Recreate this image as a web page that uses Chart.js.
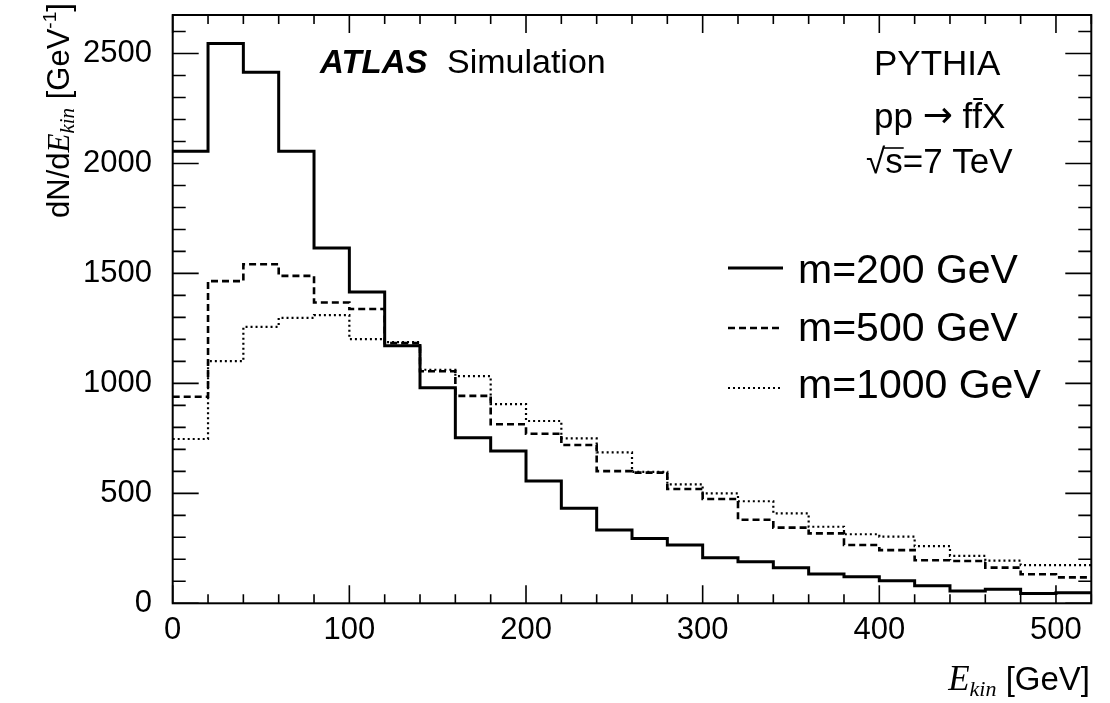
<!DOCTYPE html>
<html><head><meta charset="utf-8">
<script src="https://cdn.jsdelivr.net/npm/chart.js@4.4.0/dist/chart.umd.min.js"></script>
<style>html,body{margin:0;padding:0;background:#fff;} canvas{display:block;}</style>
</head><body>
<canvas id="c" width="1110" height="703"></canvas>
<script>
// ---- data ----
const binEdges = [0,20,40,60,80,100,120,140,160,180,200,220,240,260,280,300,320,340,360,380,400,420,440,460,480,500];
const xEnd = 520;
const m200  = [2055,2545,2415,2055,1615,1415,1171,980,753,692,556,432,333,295,265,207,189,162,133,121,103,80,56,64,45,48];
const m500  = [939,1465,1542,1489,1368,1338,1183,1055,943,814,771,720,601,594,520,474,380,344,318,265,242,196,192,162,132,118];
const m1000 = [747,1101,1257,1298,1310,1201,1188,1062,1033,906,829,750,686,598,541,500,464,409,348,314,303,260,216,194,174,174];
const seriesLabels = ['m=200 GeV','m=500 GeV','m=1000 GeV'];
const xMajorTicks = [0,100,200,300,400,500];
const yMajorTicks = [0,500,1000,1500,2000,2500];
const xMinorStep = 20, yMinorStep = 100;
const xMax = 520, yMax = 2675;

const FONT = '"Liberation Sans", Arial, Helvetica, sans-serif';
const SERIF = '"Liberation Serif", "Times New Roman", serif';

function hist(vals){
  return binEdges.map((x,i)=>({x:x, y:vals[i]})).concat([{x:xEnd, y:vals[vals.length-1]}]);
}
const styles = [
  {borderWidth:3, borderDash:[]},
  {borderWidth:2.6, borderDash:[7,4]},
  {borderWidth:2.2, borderDash:[2,3]}
];
const seriesData = [m200, m500, m1000];

const framePlugin = {
  id:'frame',
  afterDraw(chart){
    const ctx = chart.ctx, ca = chart.chartArea, xs = chart.scales.x, ys = chart.scales.y;
    ctx.save();
    ctx.strokeStyle = '#000'; ctx.fillStyle = '#000';
    // ticks
    ctx.lineWidth = 1.6;
    ctx.beginPath();
    for (let v = 0; v <= xMax + 1e-9; v += xMinorStep){
      const px = xs.getPixelForValue(v);
      const len = (v % 100 === 0) ? 18 : 9;
      ctx.moveTo(px, ca.bottom); ctx.lineTo(px, ca.bottom - len);
      ctx.moveTo(px, ca.top); ctx.lineTo(px, ca.top + len);
    }
    for (let v = 0; v <= yMax; v += yMinorStep){
      const py = ys.getPixelForValue(v);
      const len = (v % 500 === 0) ? 26 : 13;
      ctx.moveTo(ca.left, py); ctx.lineTo(ca.left + len, py);
      ctx.moveTo(ca.right, py); ctx.lineTo(ca.right - len, py);
    }
    ctx.stroke();
    // frame
    ctx.lineWidth = 2;
    ctx.strokeRect(ca.left, ca.top, ca.right - ca.left, ca.bottom - ca.top);

    // texts
    ctx.textBaseline = 'alphabetic'; ctx.textAlign = 'left';
    ctx.font = 'italic bold 33px ' + FONT;
    ctx.fillText('ATLAS', 320, 73);
    ctx.font = '34px ' + FONT;
    ctx.fillText('Simulation', 447, 73);
    ctx.font = '35px ' + FONT;
    ctx.fillText('PYTHIA', 874, 75);
    // pp -> f fbar X
    let px0 = 874;
    const put = (t, f, y) => { ctx.font = f; ctx.fillText(t, px0, y); px0 += ctx.measureText(t).width; };
    put('pp ', '35px ' + FONT, 128);
    put('\u2192', '36px "DejaVu Sans", ' + FONT, 127);
    put(' f', '35px ' + FONT, 128);
    const fbarX = px0;
    put('f', '35px ' + FONT, 128);
    const fW = px0 - fbarX;
    put('X', '35px ' + FONT, 128);
    ctx.lineWidth = 2;
    ctx.beginPath(); ctx.moveTo(fbarX + 1, 99); ctx.lineTo(fbarX + fW + 1, 99); ctx.stroke();
    ctx.font = '35px ' + FONT;
    ctx.fillText('\u221As=7 TeV', 866, 173);
    const wr = ctx.measureText('\u221A').width, ws = ctx.measureText('s').width;
    ctx.lineWidth = 1.6;
    ctx.beginPath(); ctx.moveTo(866 + wr - 2, 148); ctx.lineTo(866 + wr + ws + 1, 148); ctx.stroke();

    // legend
    const legY = [268, 328, 388], legBase = [283, 341, 398];
    for (let i = 0; i < 3; i++){
      ctx.save();
      ctx.lineWidth = styles[i].borderWidth;
      ctx.setLineDash(styles[i].borderDash);
      ctx.beginPath(); ctx.moveTo(728, legY[i]); ctx.lineTo(783, legY[i]); ctx.stroke();
      ctx.restore();
      ctx.font = '41px ' + FONT;
      ctx.fillText(seriesLabels[i], 798, legBase[i]);
    }

    // y-axis title (rotated)
    ctx.save();
    ctx.translate(69, 218); ctx.rotate(-Math.PI/2);
    let x = 0;
    const seg = (t, f, dy) => { ctx.font = f; ctx.fillText(t, x, dy); x += ctx.measureText(t).width; };
    seg('dN/d', '31px ' + FONT, 0);
    seg('E', 'italic 31px ' + SERIF, 0);
    seg('kin', 'italic 21px ' + SERIF, 5);
    seg(' [GeV', '31px ' + FONT, 0);
    seg('-1', '19px ' + FONT, -13);
    seg(']', '31px ' + FONT, 0);
    ctx.restore();

    // x-axis title (right aligned)
    const parts = [['E','italic 35px ' + SERIF, 0], ['kin','italic 22px ' + SERIF, 6], [' [GeV]','33px ' + FONT, 0]];
    let tot = 0;
    parts.forEach(p => { ctx.font = p[1]; tot += ctx.measureText(p[0]).width; });
    let xx = 1090 - tot;
    parts.forEach(p => { ctx.font = p[1]; ctx.fillText(p[0], xx, 690 + p[2]); xx += ctx.measureText(p[0]).width; });
    ctx.restore();
  }
};

new Chart(document.getElementById('c').getContext('2d'), {
  type:'line',
  data:{
    datasets: seriesData.map((vals, i) => ({
      label: seriesLabels[i],
      data: hist(vals),
      borderColor:'#000',
      borderWidth: styles[i].borderWidth,
      borderDash: styles[i].borderDash,
      stepped: true,
      pointRadius: 0,
      fill: false,
      tension: 0
    }))
  },
  options:{
    responsive:false, animation:false, devicePixelRatio:1,
    layout:{padding:{left:0, top:15, right:18.7, bottom:0}},
    plugins:{legend:{display:false}, tooltip:{enabled:false}},
    scales:{
      x:{
        type:'linear', min:0, max:xMax,
        grid:{display:false}, border:{display:false},
        ticks:{font:{family:FONT, size:31}, color:'#000', padding:1, maxRotation:0, autoSkip:false,
               callback: v => String(v)},
        afterBuildTicks: s => { s.ticks = xMajorTicks.map(v => ({value:v})); },
        afterFit: s => { s.height = 99.7; s.paddingLeft = 0; s.paddingRight = 0; }
      },
      y:{
        type:'linear', min:0, max:yMax,
        grid:{display:false}, border:{display:false},
        ticks:{font:{family:FONT, size:31}, color:'#000', padding:12.7, autoSkip:false,
               callback: v => String(v)},
        afterBuildTicks: s => { s.ticks = yMajorTicks.map(v => ({value:v})); },
        afterFit: s => { s.width = 172.7; s.paddingTop = 0; s.paddingBottom = 0; }
      }
    }
  },
  plugins:[framePlugin]
});
</script>
</body></html>
